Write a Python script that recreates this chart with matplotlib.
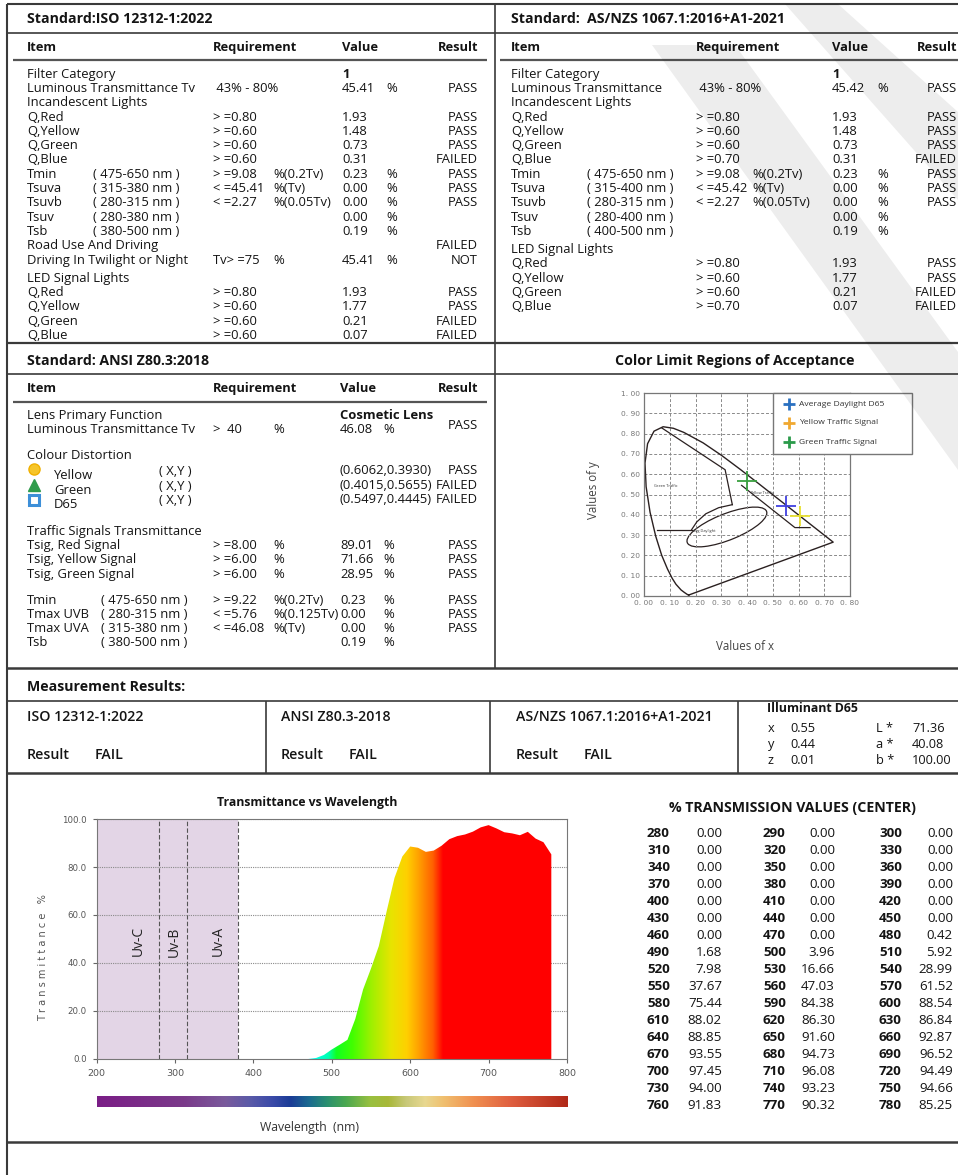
import numpy as np
import matplotlib
matplotlib.use("Agg")
import matplotlib.pyplot as plt
from matplotlib.patches import Rectangle, Polygon, Ellipse
from matplotlib.colors import to_rgb

plt.rcParams['font.family'] = ['Open Sans', 'DejaVu Sans']

# ------------------------------------------------------------------ data
ISO_HEAD = "Standard:ISO 12312-1:2022"
ISO_ROWS = [
    ("Filter Category", "", "", "", "1", "", ""),
    ("Luminous Transmittance Tv", "", " 43% - 80%", "", "45.41", "%", "PASS"),
    ("Incandescent Lights", "", "", "", "", "", ""),
    ("Q,Red", "", "> =0.80", "", "1.93", "", "PASS"),
    ("Q,Yellow", "", "> =0.60", "", "1.48", "", "PASS"),
    ("Q,Green", "", "> =0.60", "", "0.73", "", "PASS"),
    ("Q,Blue", "", "> =0.60", "", "0.31", "", "FAILED"),
    ("Tmin", "( 475-650 nm )", "> =9.08", "%(0.2Tv)", "0.23", "%", "PASS"),
    ("Tsuva", "( 315-380 nm )", "< =45.41", "%(Tv)", "0.00", "%", "PASS"),
    ("Tsuvb", "( 280-315 nm )", "< =2.27", "%(0.05Tv)", "0.00", "%", "PASS"),
    ("Tsuv", "( 280-380 nm )", "", "", "0.00", "%", ""),
    ("Tsb", "( 380-500 nm )", "", "", "0.19", "%", ""),
    ("Road Use And Driving", "", "", "", "", "", "FAILED"),
    ("Driving In Twilight or Night", "", "Tv> =75", "%", "45.41", "%", "NOT"),
    ("LED Signal Lights", "", "", "", "", "", ""),
    ("Q,Red", "", "> =0.80", "", "1.93", "", "PASS"),
    ("Q,Yellow", "", "> =0.60", "", "1.77", "", "PASS"),
    ("Q,Green", "", "> =0.60", "", "0.21", "", "FAILED"),
    ("Q,Blue", "", "> =0.60", "", "0.07", "", "FAILED"),
]

AS_HEAD = "Standard:  AS/NZS 1067.1:2016+A1-2021"
AS_ROWS = [
    ("Filter Category", "", "", "", "1", "", ""),
    ("Luminous Transmittance", "", " 43% - 80%", "", "45.42", "%", "PASS"),
    ("Incandescent Lights", "", "", "", "", "", ""),
    ("Q,Red", "", "> =0.80", "", "1.93", "", "PASS"),
    ("Q,Yellow", "", "> =0.60", "", "1.48", "", "PASS"),
    ("Q,Green", "", "> =0.60", "", "0.73", "", "PASS"),
    ("Q,Blue", "", "> =0.70", "", "0.31", "", "FAILED"),
    ("Tmin", "( 475-650 nm )", "> =9.08", "%(0.2Tv)", "0.23", "%", "PASS"),
    ("Tsuva", "( 315-400 nm )", "< =45.42", "%(Tv)", "0.00", "%", "PASS"),
    ("Tsuvb", "( 280-315 nm )", "< =2.27", "%(0.05Tv)", "0.00", "%", "PASS"),
    ("Tsuv", "( 280-400 nm )", "", "", "0.00", "%", ""),
    ("Tsb", "( 400-500 nm )", "", "", "0.19", "%", ""),
    ("LED Signal Lights", "", "", "", "", "", ""),
    ("Q,Red", "", "> =0.80", "", "1.93", "", "PASS"),
    ("Q,Yellow", "", "> =0.60", "", "1.77", "", "PASS"),
    ("Q,Green", "", "> =0.60", "", "0.21", "", "FAILED"),
    ("Q,Blue", "", "> =0.70", "", "0.07", "", "FAILED"),
]

ANSI_HEAD = "Standard: ANSI Z80.3:2018"
ANSI_ROWS = [
    ("Lens Primary Function", "", "", "", "Cosmetic Lens", "", ""),
    ("Luminous Transmittance Tv", "", ">  40", "%", "46.08", "%", "PASS"),
    ("Colour Distortion", "", "", "", "", "", ""),
    ("Yellow", "( X,Y )", "", "", "(0.6062,0.3930)", "", "PASS"),
    ("Green", "( X,Y )", "", "", "(0.4015,0.5655)", "", "FAILED"),
    ("D65", "( X,Y )", "", "", "(0.5497,0.4445)", "", "FAILED"),
    ("Traffic Signals Transmittance", "", "", "", "", "", ""),
    ("Tsig, Red Signal", "", "> =8.00", "%", "89.01", "%", "PASS"),
    ("Tsig, Yellow Signal", "", "> =6.00", "%", "71.66", "%", "PASS"),
    ("Tsig, Green Signal", "", "> =6.00", "%", "28.95", "%", "PASS"),
    ("Tmin", "( 475-650 nm )", "> =9.22", "%(0.2Tv)", "0.23", "%", "PASS"),
    ("Tmax UVB", "( 280-315 nm )", "< =5.76", "%(0.125Tv)", "0.00", "%", "PASS"),
    ("Tmax UVA", "( 315-380 nm )", "< =46.08", "%(Tv)", "0.00", "%", "PASS"),
    ("Tsb", "( 380-500 nm )", "", "", "0.19", "%", ""),
]

RESULT_STANDARDS = ["ISO 12312-1:2022", "ANSI Z80.3-2018", "AS/NZS 1067.1:2016+A1-2021"]
RESULT_VALUES = ["FAIL", "FAIL", "FAIL"]
ILLUM_XYZ = [("x", "0.55"), ("y", "0.44"), ("z", "0.01")]
ILLUM_LAB = [("L *", "71.36"), ("a *", "40.08"), ("b *", "100.00")]

WAVELENGTHS = list(range(280, 790, 10))
TRANSMISSION = [0.00, 0.00, 0.00, 0.00, 0.00, 0.00, 0.00, 0.00, 0.00,
                0.00, 0.00, 0.00, 0.00, 0.00, 0.00, 0.00, 0.00, 0.00,
                0.00, 0.00, 0.42, 1.68, 3.96, 5.92, 7.98, 16.66, 28.99,
                37.67, 47.03, 61.52, 75.44, 84.38, 88.54, 88.02, 86.30, 86.84,
                88.85, 91.60, 92.87, 93.55, 94.73, 96.52, 97.45, 96.08, 94.49,
                94.00, 93.23, 94.66, 91.83, 90.32, 85.25]

# CIE 1931 spectral locus (chromaticity x, y)
LOCUS_X = [0.1741, 0.1714, 0.1644, 0.1566, 0.1440, 0.1241, 0.1096, 0.0913,
           0.0687, 0.0454, 0.0235, 0.0082, 0.0039, 0.0139, 0.0389, 0.0743,
           0.1142, 0.1547, 0.2296, 0.3016, 0.3731, 0.4441, 0.5125, 0.5752,
           0.6270, 0.6915, 0.7190, 0.7347]
LOCUS_Y = [0.0050, 0.0051, 0.0109, 0.0177, 0.0297, 0.0578, 0.0868, 0.1327,
           0.2007, 0.2950, 0.4127, 0.5384, 0.6548, 0.7502, 0.8120, 0.8338,
           0.8262, 0.8059, 0.7543, 0.6923, 0.6245, 0.5547, 0.4866, 0.4242,
           0.3725, 0.3083, 0.2809, 0.2653]
GREEN_EDGE_X = [0.069, 0.315, 0.343]
GREEN_EDGE_Y = [0.828, 0.622, 0.450]
GREEN_LOW_X = [0.049, 0.185]
GREEN_LOW_Y = [0.327, 0.327]
ARC_X = [0.185, 0.205, 0.240, 0.290, 0.343]
ARC_Y = [0.327, 0.365, 0.405, 0.435, 0.450]
YELLOW_EDGE_X = [0.379, 0.586, 0.645]
YELLOW_EDGE_Y = [0.545, 0.337, 0.337]
DAYLIGHT_ELLIPSE = (0.322, 0.340, 0.345, 0.125, 28)
POINT_NAMES = ["Average Daylight D65", "Yellow Traffic Signal", "Green Traffic Signal"]
POINT_X = [0.5497, 0.6062, 0.4015]
POINT_Y = [0.4445, 0.3930, 0.5655]

# ------------------------------------------------------------------ layout
ROW = 14.3
ISO_Y = [73 + ROW * i for i in range(14)] + [277 + ROW * i for i in range(5)]
AS_Y = [73 + ROW * i for i in range(12)] + [248.5 + ROW * i for i in range(5)]
ANSI_Y = [414, 428, 454, 474, 489, 503, 530, 544, 558, 573, 599, 613, 627, 641]

W, H = 958, 1175
fig = plt.figure(figsize=(W / 100, H / 100), dpi=100)
bg = fig.add_axes([0, 0, 1, 1])
bg.set_xlim(0, W)
bg.set_ylim(H, 0)
bg.axis('off')

TXT = '#141414'
BODY = 9.4


def T(x, y, s, size=BODY, weight='normal', ha='left', color=TXT, ax=None, **kw):
    # y is the visual centre of the capitals; place on baseline
    off = size * 100 / 72 * 0.714 / 2
    (ax or bg).text(x, y + off, s, fontsize=size, fontweight=weight, ha=ha,
                    va='baseline', color=color, **kw)


def L(xs, ys, lw=1.2, c='#3a3a3a'):
    bg.plot(xs, ys, color=c, lw=lw, solid_capstyle='butt')


# frame lines
L([7, W], [4, 4], 1.5)
L([7, 7], [4, H], 1.5)
for yy, lw in [(33, 1.2), (343, 1.6), (374, 1.2), (668, 1.8), (701, 1.2), (773, 1.8), (1142, 1.8)]:
    L([7, W], [yy, yy], lw)
L([13, 487], [60, 60], 1.6, '#555555')
L([500, W], [60, 60], 1.6, '#555555')
L([13, 487], [402, 402], 1.6, '#555555')
L([495, 495], [4, 668], 1.2)
for xx in [266, 490, 738]:
    L([xx, xx], [701, 773], 1.2)


def table(rows, ys, x0, xr, xreq, xru, xval, xun, xres):
    for (item, rng, req, ru, val, un, res), y in zip(rows, ys):
        T(x0, y, item)
        if rng:
            T(xr, y, rng)
        if req:
            T(xreq, y, req)
        if ru:
            T(xru, y, ru)
        if val:
            T(xval, y, val, weight='bold' if val == "1" else 'normal')
        if un:
            T(xun, y, un)
        if res:
            T(xres, y, res, ha='right')


# ISO panel
T(27, 18, ISO_HEAD, size=10.2, weight='bold')
for x, s, ha in [(27, "Item", 'left'), (213, "Requirement", 'left'),
                 (342, "Value", 'left'), (478, "Result", 'right')]:
    T(x, 46, s, size=9.3, weight='bold', ha=ha)
table(ISO_ROWS, ISO_Y, 27, 93, 213, 273, 342, 386, 478)

# AS/NZS panel
T(511, 18, AS_HEAD, size=10.2, weight='bold')
for x, s, ha in [(511, "Item", 'left'), (696, "Requirement", 'left'),
                 (832, "Value", 'left'), (957, "Result", 'right')]:
    T(x, 46, s, size=9.3, weight='bold', ha=ha)
table(AS_ROWS, AS_Y, 511, 587, 696, 752, 832, 877, 957)

# ANSI panel
T(27, 360, ANSI_HEAD, size=10.2, weight='bold')
for x, s, ha in [(27, "Item", 'left'), (213, "Requirement", 'left'),
                 (340, "Value", 'left'), (478, "Result", 'right')]:
    T(x, 387, s, size=9.3, weight='bold', ha=ha)
for (item, rng, req, ru, val, un, res), y in zip(ANSI_ROWS, ANSI_Y):
    if rng == "( X,Y )":
        T(54, y, item)
        T(159, y - 4, rng)
        T(340, y - 5, val)
        T(478, y - 5, res, ha='right')
        continue
    T(27, y, item)
    if rng:
        T(101, y, rng)
    if req:
        T(213, y, req)
    if ru:
        T(273, y, ru)
    if val:
        T(340, y, val, weight='bold' if val == "Cosmetic Lens" else 'normal')
    if un:
        T(383, y, un)
    if res:
        T(478, y - 4 if item.startswith("Luminous") else y, res, ha='right')
bg.plot([34], [469], 'o', ms=8, color='#f6c52a', mec='#f0b000')
bg.plot([34], [485], '^', ms=8, color='#2f9c4c', mec='#2f9c4c')
bg.plot([34], [500], 's', ms=7.5, color='white', mec='#3d8fd8', mew=2.2)

# Measurement results
T(27, 686, "Measurement Results:", size=10.2, weight='bold')
for x, std, resv in zip([27, 281, 516], RESULT_STANDARDS, RESULT_VALUES):
    T(x, 716, std, size=10.2, weight='semibold')
    T(x, 754, "Result", size=10.2, weight='semibold')
    T(x + 68, 754, resv, size=10.2, weight='semibold')
T(767, 708, "Illuminant D65", size=8.8, weight='bold')
for (a, b), (c, d), y in zip(ILLUM_XYZ, ILLUM_LAB, [727, 743, 759]):
    T(768, y, a, size=9.2)
    T(790, y, b, size=9.2)
    T(876, y, c, size=9.2)
    T(912, y, d, size=9.2)

# Section titles
T(735, 360, "Color Limit Regions of Acceptance", size=10.2, weight='bold', ha='center')
T(307, 802, "Transmittance vs Wavelength", size=8.8, weight='bold', ha='center')
T(793, 807, "% TRANSMISSION VALUES (CENTER)", size=10.2, weight='bold', ha='center')

# transmission value table
for i in range(17):
    y = 832 + i * 17.0
    for j, (xw, xv) in enumerate([(647, 722), (763, 835), (879, 953)]):
        k = 3 * i + j
        T(xw, y, str(WAVELENGTHS[k]), size=9.6, weight='bold')
        T(xv, y, f"{TRANSMISSION[k]:.2f}", size=9.6, ha='right')


# ------------------------------------------------------------------ CIE chart
def px_axes(l, r, t, b):
    return fig.add_axes([l / W, 1 - b / H, (r - l) / W, (b - t) / H])


cie = px_axes(644, 850, 393, 596)
cie.set_xlim(0, 0.8)
cie.set_ylim(0, 1.0)
ticks_x = np.round(np.arange(0, 0.81, 0.1), 2)
ticks_y = np.round(np.arange(0, 1.01, 0.1), 2)
cie.set_xticks(ticks_x)
cie.set_yticks(ticks_y)
cie.set_xticklabels([f"{v:.2f}".replace(".", ". ") for v in ticks_x], fontsize=5.4,
                    color='#777777', family='DejaVu Sans')
cie.set_yticklabels([f"{v:.2f}".replace(".", ". ") for v in ticks_y], fontsize=5.4,
                    color='#777777', family='DejaVu Sans')
cie.tick_params(length=0, pad=3)
cie.grid(True, ls=(0, (3, 2)), color='#8a8a8a', lw=0.7)
for s in cie.spines.values():
    s.set_color('#777777')
    s.set_linewidth(0.9)
lx = LOCUS_X + [LOCUS_X[0]]
ly = LOCUS_Y + [LOCUS_Y[0]]
cie.plot(lx, ly, color='#2a2020', lw=1.0)
cie.plot(GREEN_EDGE_X, GREEN_EDGE_Y, color='#2a2020', lw=0.9)
cie.plot(GREEN_LOW_X, GREEN_LOW_Y, color='#2a2020', lw=0.9)
cie.plot(ARC_X, ARC_Y, color='#2a2020', lw=0.9)
cie.plot(YELLOW_EDGE_X, YELLOW_EDGE_Y, color='#2a2020', lw=0.9)
ex, ey, ew, eh, ea = DAYLIGHT_ELLIPSE
cie.add_patch(Ellipse((ex, ey), ew, eh, angle=ea, fill=False, ec='#2a2020', lw=0.9))
cie.text(0.04, 0.535, "Green Traffic", fontsize=2.8, color='#333333')
cie.text(0.41, 0.500, "Yellow Traffic", fontsize=2.8, color='#333333')
cie.text(0.19, 0.315, "Avg Daylight", fontsize=2.8, color='#333333')
for x, y, c in zip(POINT_X, POINT_Y, ['#4040e0', '#e8e030', '#3aa040']):
    cie.plot([x], [y], '+', ms=15, mew=1.3, color=c)
fig.text(593 / W, 1 - 490 / H, "Values of y", rotation=90, ha='center', va='center',
         fontsize=8.3, color='#444444')
fig.text(745 / W, 1 - 647 / H, "Values of x", ha='center', va='center',
         fontsize=8.3, color='#444444')

# ------------------------------------------------------------------ Transmittance chart
tx = px_axes(96.5, 567, 819, 1059)
tx.set_xlim(200, 800)
tx.set_ylim(0, 100)
tx.axvspan(200, 380, color='#e3d5e6', zorder=0, lw=0)
for xv in [280, 315, 380]:
    tx.axvline(xv, color='#555555', ls=(0, (4, 2)), lw=0.8, zorder=1)
for yv in [20, 40, 60, 80, 100]:
    tx.axhline(yv, color='#8a8a8a', ls=(0, (1, 1)), lw=0.8, zorder=1)
for s, xw in zip(["Uv-C", "Uv-B", "Uv-A"], [253, 299, 355]):
    tx.text(xw, 49, s, rotation=90, ha='center', va='center', fontsize=10, color='#222222')

FILL_STOPS = [(470, '#00ffff'), (495, '#00ffb0'), (505, '#10ff20'), (525, '#40ff00'),
              (550, '#a0f000'), (575, '#e8e400'), (595, '#ffd000'), (610, '#ffa000'),
              (628, '#ff6000'), (641, '#ff0000'), (800, '#ff0000')]
grid_wl = np.linspace(200, 800, 1201)
stop_w = [s[0] for s in FILL_STOPS]
stop_c = np.array([to_rgb(s[1]) for s in FILL_STOPS])
rgb = np.stack([np.interp(grid_wl, stop_w, stop_c[:, i]) for i in range(3)], axis=-1)
img = tx.imshow(rgb[None, :, :], extent=[200, 800, 0, 100], aspect='auto',
                origin='lower', zorder=2, interpolation='bilinear')
verts = [(WAVELENGTHS[0], 0)] + list(zip(WAVELENGTHS, TRANSMISSION)) + [(WAVELENGTHS[-1], 0)]
clip = Polygon(verts, closed=True, transform=tx.transData, fc='none', ec='none')
tx.add_patch(clip)
img.set_clip_path(clip)
tx.set_xlim(200, 800)
tx.set_ylim(0, 100)
tx.set_xticks(range(200, 801, 100))
tx.set_xticklabels([str(v) for v in range(200, 801, 100)], fontsize=6.8, color='#555555',
                   family='DejaVu Sans')
tx.set_yticks(range(0, 101, 20))
tx.set_yticklabels([f"{v:.1f}" for v in range(0, 101, 20)], fontsize=6.2, color='#555555',
                   family='DejaVu Sans')
tx.tick_params(length=3, width=0.8, color='#666666', pad=4)
for s in tx.spines.values():
    s.set_color('#777777')
    s.set_linewidth(0.8)
fig.text(43 / W, 1 - 958 / H, "T r a n s m i t t a n c e   %", rotation=90, ha='center',
         va='center', fontsize=7, color='#555555', family='DejaVu Sans')

# wavelength colour bar
CBAR_STOPS = [(200, '#7b1e86'), (311, '#7a3a8a'), (363, '#7a5a9c'), (395, '#5a5aa8'),
              (424, '#3a4aa8'), (447, '#1a3c96'), (470, '#1a6a90'), (493, '#2a9070'),
              (517, '#4aa850'), (548, '#98c040'), (571, '#a8b838'), (594, '#c8c878'),
              (618, '#e8d890'), (641, '#f0c070'), (680, '#f09050'), (726, '#e06040'),
              (800, '#b02818')]
cb = px_axes(96.5, 567, 1096, 1107)
cw = [s[0] for s in CBAR_STOPS]
cc = np.array([to_rgb(s[1]) for s in CBAR_STOPS])
crgb = np.stack([np.interp(grid_wl, cw, cc[:, i]) for i in range(3)], axis=-1)
cb.imshow(crgb[None, :, :], extent=[200, 800, 0, 1], aspect='auto', interpolation='bilinear')
cb.axis('off')
fig.text(310 / W, 1 - 1127 / H, "Wavelength  (nm)", ha='center', va='center', fontsize=8.8,
         color='#333333')

# ------------------------------------------------------------------ overlay: legend + watermark
ov = fig.add_axes([0, 0, 1, 1])
ov.set_xlim(0, W)
ov.set_ylim(H, 0)
ov.axis('off')
ov.patch.set_alpha(0)
ov.add_patch(Rectangle((773, 393), 139, 61, fc='white', ec='#777777', lw=1.0))
for name, y, c in zip(POINT_NAMES, [404, 423, 442], ['#2a70c0', '#f0a830', '#2a9a4a']):
    ov.plot([789], [y], '+', ms=8, mew=2.0, color=c)
    ov.text(799, y, name, fontsize=6.1, va='center', ha='left', color='#333333')

WATERMARK = [
    [(785, 4), (838, 4), (958, 112), (958, 200)],
    [(652, 45), (735, 45), (958, 352), (958, 470)],
]
for pts in WATERMARK:
    ov.add_patch(Polygon(pts, closed=True, fc='black', alpha=0.07, lw=0))

fig.savefig("out.png", dpi=100)
